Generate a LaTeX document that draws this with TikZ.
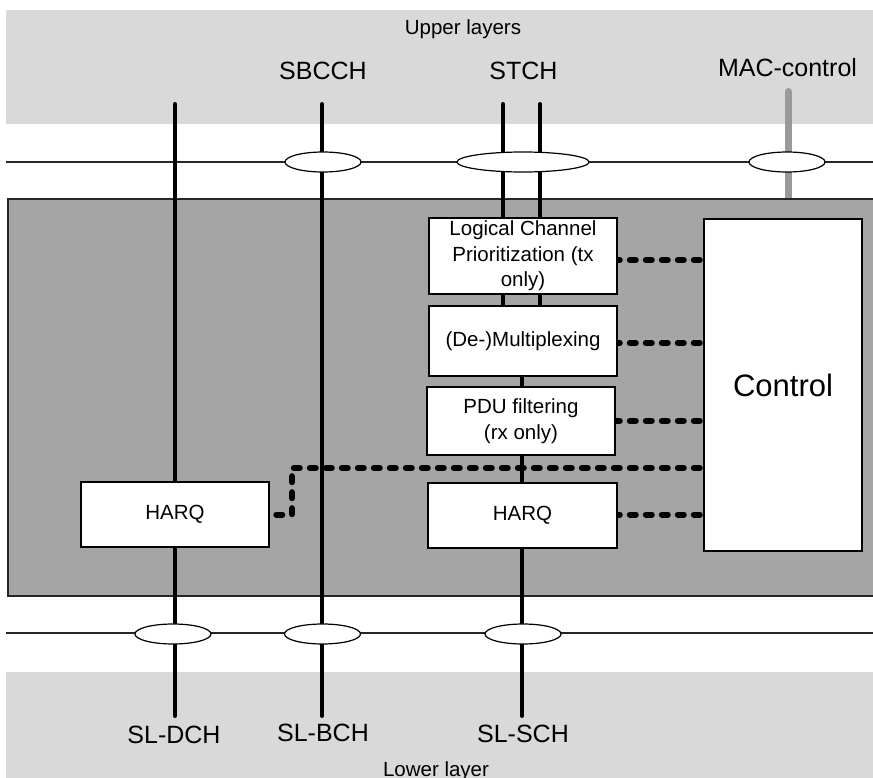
\documentclass[tikz,border=0pt]{standalone}
\usepackage{fontspec}
\setmainfont{Liberation Sans}
\usetikzlibrary{shapes.geometric}
\pgfdeclarelayer{bg}
\pgfdeclarelayer{mid}
\pgfsetlayers{bg,mid,main}
\definecolor{bandgray}{HTML}{D9D9D9}
\definecolor{darkfill}{HTML}{A5A5A5}
\definecolor{macgray}{HTML}{999999}
\begin{document}
\begin{tikzpicture}[x=1pt,y=-1pt,
  hline/.style={line width=1.2pt,draw=black!85},
  chan/.style={line width=4pt,line cap=round},
  chanseg/.style={line width=4pt},
  macline/.style={line width=7pt,draw=macgray,line cap=round},
  mux/.style={draw,fill=white,line width=1.2pt,ellipse,minimum width=76pt,minimum height=20pt,inner sep=0pt},
  fbox/.style={draw,fill=white,line width=1.2pt,inner sep=0pt,align=center,font=\fontsize{20.5}{25.5}\selectfont},
  lbl/.style={anchor=base,inner sep=0pt,font=\fontsize{25}{30}\selectfont},
  layerlbl/.style={anchor=base,inner sep=0pt,font=\fontsize{20.5}{25}\selectfont},
  dotline/.style={line width=6pt,dash pattern=on 6pt off 10pt,line cap=round}
]
\useasboundingbox (0,0) rectangle (873,778);

% coordinates
\coordinate (hlTa) at (6,162);   \coordinate (hlTb) at (873,162);
\coordinate (hlBa) at (6,633);   \coordinate (hlBb) at (873,633);
\coordinate (tDCH) at (175,104); \coordinate (bDCH) at (175,716);
\coordinate (tBCH) at (322,104); \coordinate (bBCH) at (322,716);
\coordinate (tSTa) at (503,104);
\coordinate (tSTb) at (540,104);
\coordinate (cx)   at (522,0);
\coordinate (bSCH) at (522,716);
\coordinate (tMAC) at (788,91.5);
\coordinate (bMAC) at (788,205);
\coordinate (jog)  at (292,468);

\begin{pgfonlayer}{bg}
  \fill[bandgray] (6,10) rectangle (873,124);
  \fill[bandgray] (6,672) rectangle (873,778);
  \draw[macline] (tMAC) -- (bMAC);
  \draw[line width=1.2pt,draw=black!85,fill=darkfill] (8,199) rectangle (885,596);
  \draw[hline] (hlTa) -- (hlTb);
  \draw[hline] (hlBa) -- (hlBb);
\end{pgfonlayer}

% function boxes
\node[fbox,minimum width=188pt,minimum height=76pt] (lcp) at (523,256) {Logical Channel\\Prioritization (tx\\only)};
\node[fbox,minimum width=188pt,minimum height=70pt] (demux) at (523,341) {(De-)Multiplexing};
\node[fbox,minimum width=188pt,minimum height=68pt] (pdu) at (521,421) {PDU filtering\\(rx only)};
\node[fbox,minimum width=189pt,minimum height=65pt] (harqR) at (522.5,515.5) {HARQ};
\node[fbox,minimum width=188pt,minimum height=65pt] (harqL) at (175,514.5) {HARQ};
\node[fbox,minimum width=158pt,minimum height=332pt,font=\fontsize{31}{36}\selectfont] (ctrl) at (783,385) {Control};

% multiplexing ellipses
\node[mux] (eSB) at (323,162) {};
\node[mux,minimum width=132pt] (eST) at (523,162) {};
\node[mux] (eMAC) at (787,162) {};
\node[mux] (eDCH) at (173,634) {};
\node[mux] (eBCH) at (322.5,634) {};
\node[mux] (eSCH) at (523,634) {};

\begin{pgfonlayer}{mid}
  % channel lines
  \draw[chan] (tDCH) -- (bDCH);
  \draw[chan] (tBCH) -- (bBCH);
  \draw[chan] (tSTa) -- (tSTa |- lcp.north);
  \draw[chan] (tSTb) -- (tSTb |- lcp.north);
  \draw[chanseg] (tSTa |- lcp.south) -- (tSTa |- demux.north);
  \draw[chanseg] (tSTb |- lcp.south) -- (tSTb |- demux.north);
  \draw[chan] (cx |- demux.south) -- (bSCH);
  % control connections (drawn from Control towards each function)
  \draw[dotline] ([xshift=-3.6pt,yshift=-4pt]lcp.east -| ctrl.west) -- ([xshift=-20pt,yshift=-4pt]lcp.east);
  \draw[dotline] ([xshift=-3.6pt,yshift=-2pt]demux.east -| ctrl.west) -- ([xshift=-20pt,yshift=-2pt]demux.east);
  \draw[dotline] ([xshift=-3.6pt]pdu.east -| ctrl.west) -- ([xshift=-20pt]pdu.east);
  \draw[dotline] ([xshift=-3.6pt,yshift=1pt]harqR.east -| ctrl.west) -- ([xshift=-20pt,yshift=1pt]harqR.east);
  \draw[dotline] ([xshift=-3.6pt]jog -| ctrl.west) -- (jog) |- ([xshift=-20pt]harqL.east);
\end{pgfonlayer}

% labels
\node[layerlbl] (up) at (463,35) {Upper layers};
\node[lbl] (lSB) at (323,80) {SBCCH};
\node[lbl] (lST) at (523.5,80) {STCH};
\node[lbl] (lMAC) at (787.5,77) {MAC-control};
\node[lbl] (lDCH) at (174,743) {SL-DCH};
\node[lbl] (lBCH) at (323,741) {SL-BCH};
\node[lbl] (lSCH) at (523,742) {SL-SCH};
\node[layerlbl] (low) at (436,776) {Lower layer};
\end{tikzpicture}
\end{document}
